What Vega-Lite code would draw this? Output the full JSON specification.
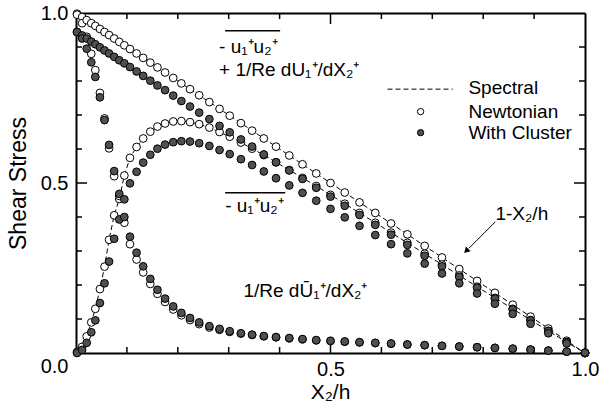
{
  "$schema": "https://vega.github.io/schema/vega-lite/v6.json",
  "width": 509,
  "height": 340,
  "autosize": "none",
  "padding": {"left": 76, "top": 13, "right": 15, "bottom": 57},
  "background": "white",
  "config": {
    "view": {"stroke": null},
    "font": "Liberation Sans",
    "axis": {
      "domainColor": "black", "domainWidth": 2, "tickColor": "black", "tickWidth": 1.5,
      "labelColor": "black", "titleColor": "black", "labelFontSize": 20,
      "labelFont": "Liberation Sans", "titleFont": "Liberation Sans", "titleFontWeight": "normal",
      "grid": false, "labelFlush": false, "labelOverlap": false, "labelBound": false
    },
    "text": {"font": "Liberation Sans", "fontSize": 19, "color": "black"}
  },
  "datasets": {
    "minor": [{"v":0.1},{"v":0.2},{"v":0.3},{"v":0.4},{"v":0.6},{"v":0.7},{"v":0.8},{"v":0.9}],
    "major": [{"v":0.5}],
    "prof": [
      {"x":0.002,"tn":0.998,"rn":0.003,"vn":0.995,"tc":0.944,"rc":0.000,"vc":0.944},
      {"x":0.012,"tn":0.988,"rn":0.018,"vn":0.970,"tc":0.934,"rc":0.009,"vc":0.925},
      {"x":0.021,"tn":0.979,"rn":0.049,"vn":0.930,"tc":0.925,"rc":0.030,"vc":0.895},
      {"x":0.030,"tn":0.970,"rn":0.090,"vn":0.880,"tc":0.916,"rc":0.061,"vc":0.855},
      {"x":0.038,"tn":0.962,"rn":0.130,"vn":0.832,"tc":0.908,"rc":0.096,"vc":0.812},
      {"x":0.047,"tn":0.953,"rn":0.188,"vn":0.765,"tc":0.899,"rc":0.147,"vc":0.752},
      {"x":0.056,"tn":0.944,"rn":0.254,"vn":0.690,"tc":0.890,"rc":0.205,"vc":0.685},
      {"x":0.065,"tn":0.935,"rn":0.333,"vn":0.602,"tc":0.881,"rc":0.269,"vc":0.612},
      {"x":0.075,"tn":0.925,"rn":0.405,"vn":0.520,"tc":0.871,"rc":0.336,"vc":0.535},
      {"x":0.085,"tn":0.915,"rn":0.453,"vn":0.462,"tc":0.861,"rc":0.393,"vc":0.468},
      {"x":0.095,"tn":0.905,"rn":0.522,"vn":0.383,"tc":0.852,"rc":0.452,"vc":0.400},
      {"x":0.106,"tn":0.894,"rn":0.574,"vn":0.320,"tc":0.841,"rc":0.499,"vc":0.342},
      {"x":0.119,"tn":0.881,"rn":0.606,"vn":0.275,"tc":0.828,"rc":0.533,"vc":0.295},
      {"x":0.132,"tn":0.868,"rn":0.631,"vn":0.237,"tc":0.815,"rc":0.560,"vc":0.255},
      {"x":0.146,"tn":0.854,"rn":0.651,"vn":0.203,"tc":0.801,"rc":0.583,"vc":0.218},
      {"x":0.160,"tn":0.840,"rn":0.666,"vn":0.174,"tc":0.787,"rc":0.601,"vc":0.186},
      {"x":0.175,"tn":0.825,"rn":0.675,"vn":0.150,"tc":0.773,"rc":0.613,"vc":0.160},
      {"x":0.191,"tn":0.809,"rn":0.681,"vn":0.128,"tc":0.757,"rc":0.620,"vc":0.137},
      {"x":0.207,"tn":0.793,"rn":0.682,"vn":0.111,"tc":0.741,"rc":0.623,"vc":0.118},
      {"x":0.224,"tn":0.776,"rn":0.679,"vn":0.097,"tc":0.725,"rc":0.622,"vc":0.103},
      {"x":0.242,"tn":0.758,"rn":0.673,"vn":0.085,"tc":0.707,"rc":0.617,"vc":0.090},
      {"x":0.262,"tn":0.738,"rn":0.663,"vn":0.075,"tc":0.688,"rc":0.609,"vc":0.079},
      {"x":0.282,"tn":0.718,"rn":0.650,"vn":0.068,"tc":0.668,"rc":0.597,"vc":0.071},
      {"x":0.302,"tn":0.698,"rn":0.636,"vn":0.062,"tc":0.649,"rc":0.585,"vc":0.064},
      {"x":0.324,"tn":0.676,"rn":0.619,"vn":0.057,"tc":0.628,"rc":0.570,"vc":0.058},
      {"x":0.346,"tn":0.654,"rn":0.601,"vn":0.053,"tc":0.607,"rc":0.553,"vc":0.054},
      {"x":0.369,"tn":0.631,"rn":0.582,"vn":0.049,"tc":0.584,"rc":0.534,"vc":0.050},
      {"x":0.393,"tn":0.607,"rn":0.561,"vn":0.046,"tc":0.561,"rc":0.514,"vc":0.047},
      {"x":0.419,"tn":0.581,"rn":0.538,"vn":0.043,"tc":0.537,"rc":0.493,"vc":0.044},
      {"x":0.445,"tn":0.555,"rn":0.515,"vn":0.040,"tc":0.512,"rc":0.471,"vc":0.041},
      {"x":0.472,"tn":0.528,"rn":0.491,"vn":0.037,"tc":0.486,"rc":0.448,"vc":0.038},
      {"x":0.500,"tn":0.500,"rn":0.465,"vn":0.035,"tc":0.460,"rc":0.424,"vc":0.036},
      {"x":0.528,"tn":0.472,"rn":0.439,"vn":0.033,"tc":0.433,"rc":0.399,"vc":0.034},
      {"x":0.557,"tn":0.443,"rn":0.412,"vn":0.031,"tc":0.406,"rc":0.374,"vc":0.032},
      {"x":0.588,"tn":0.412,"rn":0.383,"vn":0.029,"tc":0.377,"rc":0.347,"vc":0.030},
      {"x":0.619,"tn":0.381,"rn":0.354,"vn":0.027,"tc":0.348,"rc":0.320,"vc":0.028},
      {"x":0.651,"tn":0.349,"rn":0.324,"vn":0.025,"tc":0.318,"rc":0.293,"vc":0.025},
      {"x":0.685,"tn":0.315,"rn":0.292,"vn":0.023,"tc":0.286,"rc":0.263,"vc":0.023},
      {"x":0.719,"tn":0.281,"rn":0.260,"vn":0.021,"tc":0.255,"rc":0.234,"vc":0.021},
      {"x":0.753,"tn":0.247,"rn":0.228,"vn":0.019,"tc":0.224,"rc":0.205,"vc":0.019},
      {"x":0.788,"tn":0.212,"rn":0.195,"vn":0.017,"tc":0.192,"rc":0.175,"vc":0.017},
      {"x":0.823,"tn":0.177,"rn":0.162,"vn":0.015,"tc":0.160,"rc":0.145,"vc":0.015},
      {"x":0.858,"tn":0.142,"rn":0.130,"vn":0.012,"tc":0.128,"rc":0.115,"vc":0.013},
      {"x":0.893,"tn":0.107,"rn":0.097,"vn":0.010,"tc":0.096,"rc":0.086,"vc":0.010},
      {"x":0.928,"tn":0.072,"rn":0.065,"vn":0.007,"tc":0.065,"rc":0.058,"vc":0.007},
      {"x":0.964,"tn":0.036,"rn":0.032,"vn":0.004,"tc":0.032,"rc":0.028,"vc":0.004},
      {"x":1.000,"tn":0.000,"rn":0.000,"vn":0.001,"tc":0.000,"rc":0.000,"vc":0.001}
    ]
  },
  "layer": [
    {
      "data": {"name": "prof"},
      "transform": [{"fold": ["tn", "rn"], "as": ["k", "y"]}],
      "mark": {"type": "line", "color": "black", "strokeWidth": 1, "strokeDash": [5, 3]},
      "encoding": {
        "x": {"field": "x", "type": "quantitative", "scale": {"domain": [0, 1], "nice": false},
          "axis": {"orient": "bottom", "values": [0, 0.5, 1], "format": ".1f", "ticks": false,
            "labelExpr": "datum.value == 0 ? '' : datum.label",
            "labelPadding": 6, "title": "X₂/h", "titleFontSize": 21, "titleX": 254, "titleY": 45,
            "titleBaseline": "alphabetic", "titleAlign": "center", "titleAnchor": null}},
        "y": {"field": "y", "type": "quantitative", "scale": {"domain": [0, 1], "nice": false},
          "axis": {"orient": "left", "values": [0, 0.5, 1], "format": ".1f", "ticks": false,
            "labelPadding": 8,
            "labelOffset": {"condition": {"test": "datum.value == 0", "value": 13}, "value": 0},
            "title": "Shear Stress", "titleFontSize": 23, "titleX": -51, "titleY": 170,
            "titleBaseline": "alphabetic", "titleAlign": "center", "titleAngle": 270}},
        "detail": {"field": "k"}
      }
    },
    {
      "data": {"name": "minor"},
      "mark": {"type": "rule", "color": "black", "strokeWidth": 1.5},
      "encoding": {
        "x": {"field": "v", "type": "quantitative", "scale": {"domain": [0, 1], "nice": false}, "axis": null},
        "y": {"datum": 0, "type": "quantitative", "scale": {"domain": [0, 1], "nice": false}, "axis": null},
        "y2": {"datum": 0.0176}
      }
    },
    {
      "data": {"name": "minor"},
      "mark": {"type": "rule", "color": "black", "strokeWidth": 1.5},
      "encoding": {
        "x": {"field": "v", "type": "quantitative", "scale": {"domain": [0, 1], "nice": false}, "axis": null},
        "y": {"datum": 1, "type": "quantitative", "scale": {"domain": [0, 1], "nice": false}, "axis": null},
        "y2": {"datum": 0.9824}
      }
    },
    {
      "data": {"name": "minor"},
      "mark": {"type": "rule", "color": "black", "strokeWidth": 1.5},
      "encoding": {
        "y": {"field": "v", "type": "quantitative", "scale": {"domain": [0, 1], "nice": false}, "axis": null},
        "x": {"datum": 0, "type": "quantitative", "scale": {"domain": [0, 1], "nice": false}, "axis": null},
        "x2": {"datum": 0.0118}
      }
    },
    {
      "data": {"name": "minor"},
      "mark": {"type": "rule", "color": "black", "strokeWidth": 1.5},
      "encoding": {
        "y": {"field": "v", "type": "quantitative", "scale": {"domain": [0, 1], "nice": false}, "axis": null},
        "x": {"datum": 1, "type": "quantitative", "scale": {"domain": [0, 1], "nice": false}, "axis": null},
        "x2": {"datum": 0.9882}
      }
    },
    {
      "data": {"name": "major"},
      "mark": {"type": "rule", "color": "black", "strokeWidth": 1.5},
      "encoding": {
        "x": {"field": "v", "type": "quantitative", "scale": {"domain": [0, 1], "nice": false}, "axis": null},
        "y": {"datum": 0, "type": "quantitative", "scale": {"domain": [0, 1], "nice": false}, "axis": null},
        "y2": {"datum": 0.0324}
      }
    },
    {
      "data": {"name": "major"},
      "mark": {"type": "rule", "color": "black", "strokeWidth": 1.5},
      "encoding": {
        "x": {"field": "v", "type": "quantitative", "scale": {"domain": [0, 1], "nice": false}, "axis": null},
        "y": {"datum": 1, "type": "quantitative", "scale": {"domain": [0, 1], "nice": false}, "axis": null},
        "y2": {"datum": 0.9676}
      }
    },
    {
      "data": {"name": "major"},
      "mark": {"type": "rule", "color": "black", "strokeWidth": 1.5},
      "encoding": {
        "y": {"field": "v", "type": "quantitative", "scale": {"domain": [0, 1], "nice": false}, "axis": null},
        "x": {"datum": 0, "type": "quantitative", "scale": {"domain": [0, 1], "nice": false}, "axis": null},
        "x2": {"datum": 0.0216}
      }
    },
    {
      "data": {"name": "major"},
      "mark": {"type": "rule", "color": "black", "strokeWidth": 1.5},
      "encoding": {
        "y": {"field": "v", "type": "quantitative", "scale": {"domain": [0, 1], "nice": false}, "axis": null},
        "x": {"datum": 1, "type": "quantitative", "scale": {"domain": [0, 1], "nice": false}, "axis": null},
        "x2": {"datum": 0.9784}
      }
    },
    {
      "data": {"name": "prof"},
      "transform": [{"fold": ["tn", "rn", "vn"], "as": ["k", "y"]}],
      "mark": {"type": "circle", "fill": "white", "stroke": "black", "strokeWidth": 1, "size": 60, "opacity": 1},
      "encoding": {
        "x": {"field": "x", "type": "quantitative", "scale": {"domain": [0, 1], "nice": false}, "axis": null},
        "y": {"field": "y", "type": "quantitative", "scale": {"domain": [0, 1], "nice": false}, "axis": null}
      }
    },
    {
      "data": {"name": "prof"},
      "transform": [{"fold": ["tc", "rc", "vc"], "as": ["k", "y"]}],
      "mark": {"type": "circle", "fill": "#505050", "stroke": "black", "strokeWidth": 1, "size": 60, "opacity": 1},
      "encoding": {
        "x": {"field": "x", "type": "quantitative", "scale": {"domain": [0, 1], "nice": false}, "axis": null},
        "y": {"field": "y", "type": "quantitative", "scale": {"domain": [0, 1], "nice": false}, "axis": null}
      }
    },
    {
      "data": {"values": [
        {"x": 0.293, "x2": 0.401, "y": 0.948},
        {"x": 0.293, "x2": 0.411, "y": 0.471}
      ]},
      "mark": {"type": "rule", "color": "black", "strokeWidth": 1.5},
      "encoding": {
        "x": {"field": "x", "type": "quantitative", "scale": {"domain": [0, 1], "nice": false}, "axis": null},
        "x2": {"field": "x2"},
        "y": {"field": "y", "type": "quantitative", "scale": {"domain": [0, 1], "nice": false}, "axis": null}
      }
    },
    {
      "data": {"values": [{"x": 0.824, "y": 0.386, "x2": 0.772, "y2": 0.308}]},
      "mark": {"type": "rule", "color": "black", "strokeWidth": 1},
      "encoding": {
        "x": {"field": "x", "type": "quantitative", "scale": {"domain": [0, 1], "nice": false}, "axis": null},
        "y": {"field": "y", "type": "quantitative", "scale": {"domain": [0, 1], "nice": false}, "axis": null},
        "x2": {"field": "x2"},
        "y2": {"field": "y2"}
      }
    },
    {
      "data": {"values": [{"x": 0.768, "y": 0.302}]},
      "mark": {"type": "point", "shape": "triangle", "angle": 225, "filled": true, "color": "black", "size": 45, "opacity": 1},
      "encoding": {
        "x": {"field": "x", "type": "quantitative", "scale": {"domain": [0, 1], "nice": false}, "axis": null},
        "y": {"field": "y", "type": "quantitative", "scale": {"domain": [0, 1], "nice": false}, "axis": null}
      }
    },
    {
      "data": {"values": [
        {"x": 0.281, "y": 0.883, "t": "- u₁⁺u₂⁺"},
        {"x": 0.281, "y": 0.815, "t": "+ 1/Re dU₁⁺/dX₂⁺"},
        {"x": 0.293, "y": 0.416, "t": "- u₁⁺u₂⁺"},
        {"x": 0.329, "y": 0.166, "t": "1/Re dŪ₁⁺/dX₂⁺"},
        {"x": 0.824, "y": 0.391, "t": "1-X₂/h"}
      ]},
      "mark": {"type": "text", "align": "left", "baseline": "alphabetic", "fontSize": 19},
      "encoding": {
        "x": {"field": "x", "type": "quantitative", "scale": {"domain": [0, 1], "nice": false}, "axis": null},
        "y": {"field": "y", "type": "quantitative", "scale": {"domain": [0, 1], "nice": false}, "axis": null},
        "text": {"field": "t"}
      }
    },
    {
      "data": {"values": [{"x": 0.612, "x2": 0.740, "y": 0.776}]},
      "mark": {"type": "rule", "color": "black", "strokeWidth": 1, "strokeDash": [5, 3]},
      "encoding": {
        "x": {"field": "x", "type": "quantitative", "scale": {"domain": [0, 1], "nice": false}, "axis": null},
        "x2": {"field": "x2"},
        "y": {"field": "y", "type": "quantitative", "scale": {"domain": [0, 1], "nice": false}, "axis": null}
      }
    },
    {
      "data": {"values": [
        {"x": 0.677, "y": 0.710, "case": "Newtonian"},
        {"x": 0.677, "y": 0.648, "case": "With Cluster"}
      ]},
      "mark": {"type": "circle", "stroke": "black", "strokeWidth": 1, "size": 40, "opacity": 1},
      "encoding": {
        "x": {"field": "x", "type": "quantitative", "scale": {"domain": [0, 1], "nice": false}, "axis": null},
        "y": {"field": "y", "type": "quantitative", "scale": {"domain": [0, 1], "nice": false}, "axis": null},
        "fill": {"field": "case", "type": "nominal", "scale": {"domain": ["Newtonian", "With Cluster"], "range": ["white", "#505050"]}, "legend": null}
      }
    },
    {
      "data": {"values": [
        {"x": 0.771, "y": 0.778, "t": "Spectral"},
        {"x": 0.771, "y": 0.710, "t": "Newtonian"},
        {"x": 0.771, "y": 0.648, "t": "With Cluster"}
      ]},
      "mark": {"type": "text", "align": "left", "baseline": "middle", "fontSize": 19},
      "encoding": {
        "x": {"field": "x", "type": "quantitative", "scale": {"domain": [0, 1], "nice": false},
          "axis": {"orient": "top", "values": [0, 1], "labels": false, "ticks": false, "title": null}},
        "y": {"field": "y", "type": "quantitative", "scale": {"domain": [0, 1], "nice": false},
          "axis": {"orient": "right", "values": [0, 1], "labels": false, "ticks": false, "title": null}},
        "text": {"field": "t"}
      }
    }
  ],
  "resolve": {"axis": {"x": "independent", "y": "independent"}}
}
